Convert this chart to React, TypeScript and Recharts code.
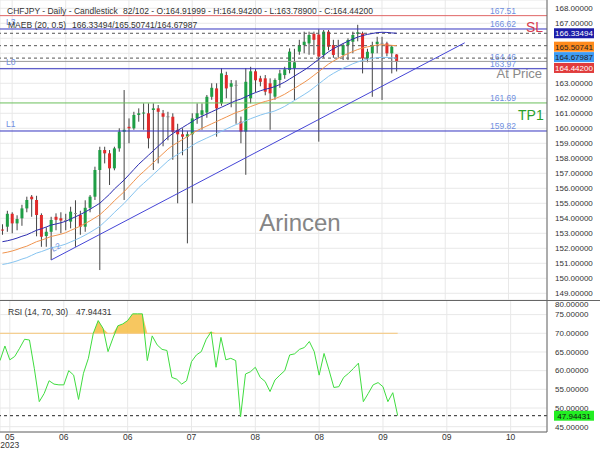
import React from 'react';
import {
  ComposedChart,
  Bar,
  Line,
  Area,
  XAxis,
  YAxis,
  CartesianGrid,
  ReferenceLine,
} from 'recharts';

// daily candles
const opens = [
  153.25, 153.44, 154.3, 153.66, 154.0, 154.66, 155.44, 155.22, 154.22, 152.82,
  153.1, 154.1, 154.0, 153.88, 153.78, 154.35, 154.22, 153.44, 154.7, 155.44,
  157.22, 158.55, 158.33, 157.33, 158.66, 159.77, 160.1, 160.0, 160.89, 161.0,
  161.0, 161.22, 161.33, 161.0, 160.8, 160.77, 159.9, 159.6, 159.44, 159.6,
  160.66, 160.9, 161.05, 162.1, 162.66, 161.66, 163.55, 162.77, 162.9, 160.44,
  159.78, 162.0, 163.8, 163.33, 163.33, 163.0, 162.11, 163.22, 163.55, 163.89,
  164.0, 165.11, 165.55, 165.66, 166.3, 166.25, 164.89, 166.44, 165.55, 165.5,
  164.89, 165.55, 165.77, 166.3, 166.33, 164.66, 165.0, 165.62, 165.7, 165.66,
  165.0, 164.92,
];
const highs = [
  153.6, 154.5, 154.4, 154.2, 154.9, 155.44, 155.55, 155.5, 154.33, 153.4,
  154.1, 154.33, 154.4, 154.3, 154.77, 155.2, 154.5, 155.2, 155.55, 157.44,
  158.77, 158.77, 158.55, 158.77, 160.0, 162.55, 160.66, 161.1, 161.33, 161.66,
  161.66, 161.66, 161.55, 161.22, 161.1, 161.0, 160.3, 160.0, 159.8, 161.0,
  161.66, 161.66, 162.22, 163.0, 163.0, 164.0, 163.77, 163.22, 163.2, 160.78,
  164.0, 164.1, 163.95, 163.5, 163.55, 163.33, 163.33, 163.9, 164.1, 165.33,
  165.3, 165.9, 166.44, 166.44, 166.44, 166.6, 166.55, 166.55, 165.9, 165.9,
  165.66, 166.0, 166.44, 166.9, 166.44, 165.3, 165.77, 166.1, 166.1, 165.77,
  165.55, 164.942,
];
const lows = [
  152.9, 153.1, 153.0, 153.2, 153.5, 154.4, 154.1, 152.8, 152.1, 152.1,
  151.22, 153.2, 153.0, 153.2, 153.33, 152.1, 152.9, 153.1, 154.4, 155.22,
  150.55, 157.66, 156.22, 157.2, 158.44, 155.22, 159.0, 159.9, 160.44, 159.9,
  158.66, 157.22, 157.66, 158.8, 159.2, 157.9, 155.0, 158.2, 152.33, 155.0,
  160.3, 159.9, 160.7, 161.9, 159.44, 161.5, 162.0, 161.4, 160.3, 159.0,
  156.9, 161.66, 162.4, 162.8, 162.2, 159.9, 161.9, 162.7, 163.3, 163.66,
  161.89, 164.9, 165.0, 164.9, 164.9, 159.11, 164.7, 165.2, 164.7, 164.7,
  164.55, 164.55, 165.0, 165.8, 163.66, 164.4, 162.1, 165.0, 161.89, 164.8,
  163.66, 163.789,
];
const closes = [
  153.2, 154.3, 153.66, 153.95, 154.66, 155.22, 155.27, 154.22, 152.77, 153.1,
  153.89, 153.9, 153.85, 153.88, 154.44, 154.35, 153.44, 154.7, 155.44, 157.22,
  158.55, 158.33, 157.33, 158.66, 159.77, 159.9, 160.0, 160.89, 161.0, 161.05,
  159.33, 161.33, 161.1, 160.77, 160.8, 159.77, 159.6, 159.44, 159.6, 160.66,
  161.0, 161.2, 162.1, 162.7, 161.33, 163.66, 162.66, 163.0, 162.9, 159.78,
  163.1, 163.8, 163.2, 163.1, 162.44, 162.33, 163.22, 163.66, 163.93, 165.11,
  164.4, 165.55, 165.77, 166.22, 165.9, 164.78, 166.44, 165.44, 164.89, 165.5,
  165.55, 165.89, 166.22, 166.4, 164.66, 165.1, 165.55, 165.77, 165.7, 165.0,
  165.44, 164.442,
];

// MAEB (20, 0.5) envelope
const maebUpper = [
  152.44, 152.5, 152.58, 152.68, 152.8, 152.9, 153.05, 153.2, 153.3, 153.42,
  153.55, 153.62, 153.7, 153.8, 153.95, 154.1, 154.25, 154.42, 154.6, 154.8,
  155.0, 155.3, 155.6, 155.95, 156.25, 156.55, 156.9, 157.25, 157.6, 157.9,
  158.2, 158.5, 158.8, 159.1, 159.4, 159.65, 159.85, 160.05, 160.25, 160.45,
  160.65, 160.8, 160.95, 161.1, 161.25, 161.4, 161.55, 161.7, 161.85, 161.95,
  162.1, 162.25, 162.38, 162.5, 162.6, 162.68, 162.78, 162.92, 163.08, 163.28,
  163.48, 163.68, 163.88, 164.1, 164.35, 164.6, 164.85, 165.1, 165.3, 165.48,
  165.65, 165.8, 165.95, 166.08, 166.18, 166.26, 166.32, 166.38, 166.4, 166.39,
  166.36, 166.335,
];
const maebMid = [
  151.68, 151.74, 151.82, 151.92, 152.04, 152.14, 152.29, 152.44, 152.54, 152.66,
  152.79, 152.86, 152.94, 153.04, 153.19, 153.33, 153.48, 153.65, 153.83, 154.03,
  154.23, 154.53, 154.83, 155.17, 155.47, 155.77, 156.12, 156.47, 156.82, 157.11,
  157.41, 157.71, 158.01, 158.31, 158.61, 158.86, 159.05, 159.25, 159.45, 159.65,
  159.85, 160.0, 160.15, 160.3, 160.45, 160.6, 160.75, 160.9, 161.05, 161.15,
  161.3, 161.45, 161.57, 161.69, 161.79, 161.87, 161.97, 162.11, 162.27, 162.47,
  162.66, 162.86, 163.06, 163.28, 163.53, 163.78, 164.03, 164.28, 164.48, 164.66,
  164.83, 164.98, 165.12, 165.25, 165.35, 165.43, 165.49, 165.55, 165.57, 165.56,
  165.53, 165.507,
];
const maebLower = [
  150.92, 150.98, 151.06, 151.16, 151.28, 151.38, 151.53, 151.68, 151.78, 151.9,
  152.03, 152.1, 152.18, 152.28, 152.42, 152.56, 152.71, 152.88, 153.06, 153.26,
  153.46, 153.76, 154.06, 154.39, 154.69, 154.99, 155.34, 155.69, 156.04, 156.33,
  156.62, 156.92, 157.22, 157.52, 157.82, 158.07, 158.25, 158.45, 158.65, 158.85,
  159.05, 159.2, 159.35, 159.5, 159.65, 159.8, 159.95, 160.1, 160.25, 160.35,
  160.5, 160.64, 160.76, 160.88, 160.98, 161.06, 161.16, 161.3, 161.46, 161.66,
  161.85, 162.05, 162.25, 162.46, 162.71, 162.96, 163.21, 163.46, 163.66, 163.84,
  164.0, 164.15, 164.3, 164.42, 164.52, 164.6, 164.66, 164.71, 164.73, 164.72,
  164.7, 164.68,
];

// RSI (14)
const rsiValues = [
  62.7, 66.6, 62.9, 63.8, 66.0, 68.4, 68.2, 60.5, 51.7, 53.9,
  57.3, 56.4, 56.2, 56.2, 60.0, 58.8, 52.3, 59.3, 63.3, 70.0,
  73.4, 71.3, 65.1, 68.7, 72.0, 72.5, 73.4, 75.2, 75.2, 75.2,
  62.7, 69.3, 66.9, 65.7, 65.4, 58.2, 57.7, 56.4, 57.3, 62.4,
  64.2, 65.1, 68.4, 70.4, 60.9, 68.9, 62.9, 63.3, 62.7, 47.7,
  59.1, 59.7, 60.9, 58.2, 57.1, 54.4, 57.5, 58.8, 60.0, 64.2,
  64.5, 65.7, 66.2, 67.8, 65.1, 58.8, 64.6, 60.2, 55.5, 55.7,
  58.2, 59.3, 60.6, 62.0, 51.7, 53.9, 56.2, 56.8, 55.7, 51.7,
  54.1, 47.94431,
];

const SLOT_COUNT = 112;
const tickSlots = [2, 13, 26, 39, 52, 65, 78, 91, 104];
const tickLabels = ['05', '06', '06', '07', '08', '08', '09', '09', '10'];
const priceTicks = [149, 150, 151, 152, 153, 154, 155, 156, 157, 158, 159, 160, 161, 162, 163, 164, 165, 166, 167, 168];
const coveredTicks = [164, 165, 166];
const rsiTicks = [45, 50, 55, 60, 65, 70, 75];

const levelPrices = [167.51, 166.62, 164.46, 163.97, 161.69, 159.82];
const levelNames = ['', 'L3', '', 'L0', '', 'L1'];
const maebLast = [166.33494, 165.50741, 164.67987];
const lastClose = 164.442;
const rsiLast = 47.94431;
const trendStart = { slot: 10, price: 151.22 };
const trendEnd = { slot: 95, price: 165.7 };

const FONT = "'Liberation Sans', Arial, sans-serif";
const levelColors = ['#e06666', '#3535c0', '#9a9a9a', '#3535c0', '#6cbf5c', '#3535c0'];
const boxStyles = [
  { bg: '#1c1ca8', fg: '#ffffff', dy: 0 },
  { bg: '#ff8a1c', fg: '#222222', dy: 1 },
  { bg: '#3d9cf5', fg: '#222222', dy: -1 },
];

const rows = Array.from({ length: SLOT_COUNT }, (_, i) => ({
  i,
  o: i < opens.length ? opens[i] : null,
  h: i < highs.length ? highs[i] : null,
  l: i < lows.length ? lows[i] : null,
  c: i < closes.length ? closes[i] : null,
  up: i < maebUpper.length ? maebUpper[i] : null,
  mid: i < maebMid.length ? maebMid[i] : null,
  lo: i < maebLower.length ? maebLower[i] : null,
  rsi: i < rsiValues.length ? rsiValues[i] : null,
}));

const Candle = (props: any) => {
  const { x, y, width, height, payload } = props;
  if (payload == null || payload.o == null) return null;
  const { o, h, l, c } = payload;
  const cx = x + width / 2;
  const k = h === l ? 0 : height / (h - l);
  const top = y + (h - Math.max(o, c)) * k;
  const bot = y + (h - Math.min(o, c)) * k;
  const color = c > o ? '#1f9e45' : c < o ? '#e02a2a' : '#8a8a8a';
  return (
    <g>
      <line x1={cx} x2={cx} y1={y} y2={y + height} stroke="#444" strokeWidth={1} />
      <rect x={cx - 1.5} y={top} width={3} height={Math.max(1, bot - top)} fill={color} />
    </g>
  );
};

const levelLabel = (name: string, value: string) => (props: any) => {
  const vb = props.viewBox;
  return (
    <g>
      {name && (
        <text x={vb.x + 6} y={vb.y - 4} fontSize={8.5} fill="#6f8fdf">
          {name}
        </text>
      )}
      <text x={vb.x + vb.width - 31} y={vb.y - 1.5} fontSize={8.5} fill="#6f8fdf" textAnchor="end">
        {value}
      </text>
    </g>
  );
};

const priceBox = (text: string, bg: string, fg: string, dy: number) => (props: any) => {
  const vb = props.viewBox;
  const bx = vb.x + vb.width + 7;
  const cy = vb.y + dy;
  return (
    <g>
      <rect x={bx} y={cy - 5} width={40} height={10} fill={bg} fillOpacity={1} />
      <text x={bx + 20} y={cy + 3} textAnchor="middle" fontSize={8} fill={fg}>
        {text}
      </text>
    </g>
  );
};

const PriceTick = (props: any) => {
  const { x, y, payload } = props;
  if (coveredTicks.includes(payload.value)) return <g />;
  return (
    <text x={x} y={y + 3} fontSize={8} fill="#333">
      {Number(payload.value).toFixed(5)}
    </text>
  );
};

const DateTick = (props: any) => {
  const { x, y, payload } = props;
  const idx = tickSlots.indexOf(payload.value);
  return (
    <g>
      <text x={x} y={y + 7.5} textAnchor="middle" fontSize={8.5} fill="#333">
        {tickLabels[idx]}
      </text>
      {idx === 0 && (
        <text x={x} y={y + 15.7} textAnchor="middle" fontSize={8.5} fill="#333">
          2023
        </text>
      )}
    </g>
  );
};

function PriceChart() {
  return (
    <ComposedChart width={600} height={300} data={rows} margin={{ top: 0, right: 0, bottom: 0, left: 0 }}>
      <CartesianGrid stroke="#e8e8e8" />
      <XAxis dataKey="i" type="category" hide padding={{ left: 0, right: 2 }} ticks={tickSlots} interval={0} />
      <YAxis
        orientation="right"
        width={53}
        domain={[148.553, 168.553]}
        allowDataOverflow
        ticks={priceTicks}
        interval={0}
        tick={<PriceTick />}
        tickLine={false}
        axisLine={{ stroke: '#666' }}
      />
      {levelPrices.map((p, k) => (
        <ReferenceLine
          key={'lv' + k}
          y={p}
          stroke={levelColors[k]}
          strokeWidth={1}
          label={levelLabel(levelNames[k], p.toFixed(2))}
        />
      ))}
      {maebLast.map((p, k) => (
        <ReferenceLine
          key={'mb' + k}
          y={p}
          stroke="#555"
          strokeDasharray="3 3"
          label={priceBox(p.toFixed(5), boxStyles[k].bg, boxStyles[k].fg, boxStyles[k].dy)}
        />
      ))}
      <ReferenceLine
        y={lastClose}
        stroke="#e03c3c"
        strokeOpacity={0}
        label={priceBox(lastClose.toFixed(5), '#e03c3c', '#ffffff', 6.3)}
      />
      <ReferenceLine
        segment={[
          { x: trendStart.slot, y: trendStart.price },
          { x: trendEnd.slot, y: trendEnd.price },
        ]}
        stroke="#4545d6"
        strokeWidth={1}
      />
      <Line dataKey="lo" stroke="#86c4f0" strokeWidth={1} dot={false} activeDot={false} isAnimationActive={false} />
      <Line dataKey="mid" stroke="#f0944e" strokeWidth={1} dot={false} activeDot={false} isAnimationActive={false} />
      <Line dataKey="up" stroke="#2c2cb0" strokeWidth={1} dot={false} activeDot={false} isAnimationActive={false} />
      <Bar
        dataKey={(d: any) => (d.o == null ? null : [d.l, d.h])}
        shape={Candle}
        isAnimationActive={false}
      />
    </ComposedChart>
  );
}

function RsiChart() {
  return (
    <ComposedChart width={600} height={150} data={rows} margin={{ top: 0, right: 0, bottom: 0, left: 0 }}>
      <CartesianGrid stroke="#e8e8e8" />
      <XAxis
        dataKey="i"
        type="category"
        height={18}
        padding={{ left: 0, right: 2 }}
        ticks={tickSlots}
        interval={0}
        tick={<DateTick />}
        tickLine={false}
        tickSize={0}
        tickMargin={0}
        axisLine={{ stroke: '#666' }}
      />
      <YAxis
        orientation="right"
        width={53}
        domain={[43.58, 78.91]}
        allowDataOverflow
        ticks={rsiTicks}
        interval={0}
        tickFormatter={(v: number) => v.toFixed(5)}
        tick={{ fontSize: 8, fill: '#333' }}
        tickLine={false}
        axisLine={{ stroke: '#666' }}
      />
      <Area
        dataKey={(d: any) => (d.rsi == null ? null : [70, Math.max(70, d.rsi)])}
        fill="#f6c14f"
        fillOpacity={0.9}
        stroke="none"
        activeDot={false}
        isAnimationActive={false}
      />
      <ReferenceLine
        segment={[
          { x: 0, y: 70 },
          { x: rsiValues.length - 1, y: 70 },
        ]}
        stroke="#f7c77a"
        strokeWidth={1}
      />
      <ReferenceLine
        y={rsiLast}
        stroke="#222"
        strokeDasharray="3 3"
        label={priceBox(rsiLast.toFixed(5), '#22ee22', '#111', 0)}
      />
      <Line dataKey="rsi" stroke="#3fdc3f" strokeWidth={1} dot={false} activeDot={false} isAnimationActive={false} />
    </ComposedChart>
  );
}

export default function App() {
  return (
    <div style={{ position: 'absolute', left: 0, top: 0, width: 600, height: 450, background: '#fff', fontFamily: FONT }}>
      <div style={{ position: 'absolute', left: 0, top: 0 }}>
        <PriceChart />
      </div>
      <div style={{ position: 'absolute', left: 0, top: 300 }}>
        <RsiChart />
      </div>
      <svg width={600} height={450} style={{ position: 'absolute', left: 0, top: 0, pointerEvents: 'none' }} fontFamily={FONT}>
        <line x1={0} x2={600} y1={300.5} y2={300.5} stroke="#666" />
        <text x={7} y={13.7} fontSize={8.5} fill="#333">CHFJPY - Daily - Candlestick</text>
        <text x={123} y={13.7} fontSize={8.5} fill="#333">82/102 - O:164.91999 - H:164.94200 - L:163.78900 - C:164.44200</text>
        <text x={8} y={28} fontSize={8.5} fill="#333">MAEB (20, 0.5)</text>
        <text x={72} y={28} fontSize={8.5} fill="#333">166.33494/165.50741/164.67987</text>
        <text x={300} y={231} fontSize={24} fill="#858585" textAnchor="middle">Arincen</text>
        <text x={526} y={32} fontSize={14} fill="#d83b4e">SL</text>
        <text x={542} y={77.5} fontSize={13} fill="#8a8a8a" textAnchor="end">At Price</text>
        <text x={518} y={120} fontSize={14} fill="#2aa02a">TP1</text>
        <text x={53} y={252} fontSize={8.5} fill="#6f8fdf" transform="rotate(-27.5 53 252)">L2</text>
        <text x={8} y={314.7} fontSize={8.5} fill="#333">RSI (14, 70, 30)</text>
        <text x={76} y={314.7} fontSize={8.5} fill="#333">47.94431</text>
        <text x={555} y={306.5} fontSize={8} fill="#333">80.00000</text>
      </svg>
    </div>
  );
}
